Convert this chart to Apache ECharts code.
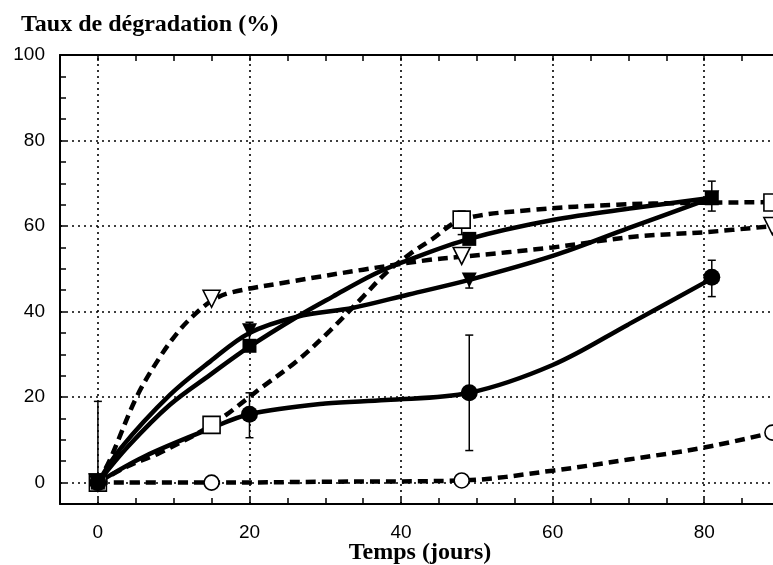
<!DOCTYPE html>
<html>
<head>
<meta charset="utf-8">
<script src="https://cdn.jsdelivr.net/npm/echarts@6/dist/echarts.min.js"></script>
<style>
  html, body { margin: 0; padding: 0; background: #fff; }
  #main { width: 773px; height: 565px; }
</style>
</head>
<body>
<div id="main"></div>
<script>
// graduations
var xGrille = [0, 20, 40, 60, 80];
var yGrille = [0, 20, 40, 60, 80];

// points mesures [jours, %]
var cercle = [[0, 0], [20, 16], [49, 21], [81, 48]];
var carre = [[0, 0], [20, 32], [49, 57], [81, 66.5]];
var triangle = [[0, 0], [20, 35.5], [49, 47.4], [81, 66.6]];
var carreOuvert = [[0, 0], [15, 13.5], [48, 61.5], [89, 65.5]];
var triangleOuvert = [[0, 0], [15, 43], [48, 53], [89, 60]];
var cercleOuvert = [[0, 0], [15, 0], [48, 0.5], [89, 11.7]];

// barres d'erreur [jours, bas, haut]
var erreurs = [[0, 0, 19], [20, 10.5, 21], [49, 7.5, 34.5], [81, 43.5, 52],
  [20, 33, 37.5], [49, 45.5, 48.5], [81, 63.5, 70.5], [48, 58, 63.5]];

// courbes
var courbeCercle = [[0, 0], [6, 6], [14.5, 12.4], [20, 16], [30, 18.5], [38, 19.3], [49, 21], [60, 27.5], [70, 37], [81, 47.7]];
var courbeCarre = [[0, 0], [4, 8.5], [9.5, 18.2], [14.8, 25.2], [20, 31.8], [26.3, 38.8], [31, 43.5], [36.3, 48.6], [40.3, 51.6], [49, 57], [60, 61.4], [70.7, 64.2], [81, 66.6]];
var courbeTriangle = [[0, 0], [3, 8], [9.5, 20.5], [14.8, 28.3], [20, 35], [26.3, 38.8], [33.7, 40.9], [41, 44], [49, 47.4], [60, 53], [70, 59.5], [81, 66.6]];
var courbeCarreOuvert = [[0, 0], [3.8, 3.7], [8.2, 7], [15, 13.5], [21.8, 22.5], [26.3, 28.5], [30.6, 35.5], [35, 43.5], [38, 49], [41.2, 53.5], [44, 56.8], [48, 61.5], [57.5, 63.8], [68.5, 65], [78, 65.4], [89, 65.6]];
var courbeTriangleOuvert = [[0, 0], [1.6, 5.4], [5.1, 20], [8.2, 29.4], [10.8, 35.7], [13, 39.7], [15, 42.5], [17.4, 44.4], [25.4, 47], [35, 49.8], [43.8, 52.1], [48, 52.8], [60, 55], [70.7, 57.5], [80.4, 58.6], [89, 60]];
var courbeCercleOuvert = [[0, 0], [15, 0], [30, 0.2], [48, 0.5], [60, 2.8], [70, 5.4], [80, 8.2], [89, 11.7]];

var chart = echarts.init(document.getElementById('main'));

function courbe(data, pointille) {
  return {
    type: 'line',
    data: data,
    smooth: 0.35,
    showSymbol: false,
    silent: true,
    z: 3,
    lineStyle: { color: '#000', width: 4.5, type: pointille ? [10, 6] : 'solid' }
  };
}

function points(data, symbole, taille, plein, rot) {
  return {
    type: 'scatter',
    data: data,
    symbol: symbole,
    symbolSize: taille,
    symbolRotate: rot || 0,
    z: 5,
    itemStyle: plein ? { color: '#000', opacity: 1 } : { color: '#fff', borderColor: '#000', borderWidth: 1.6, opacity: 1 }
  };
}

var axeCommun = {
  axisLine: { show: true, onZero: false, lineStyle: { color: '#000', width: 2 } },
  axisTick: { show: true, inside: true, length: 6, lineStyle: { color: '#000', width: 1.5 } },
  splitLine: { show: false }
};

var option = {
  animation: false,
  title: {
    text: 'Taux de dégradation (%)',
    left: 16,
    top: 8,
    textStyle: { fontFamily: 'Liberation Serif', fontWeight: 'bold', fontSize: 24, color: '#000' }
  },
  grid: { left: 60, top: 55, right: -7, bottom: 61, containLabel: false, outerBoundsMode: 'none' },
  xAxis: [Object.assign({
    type: 'value', min: -5, max: 90, interval: 5,
    name: 'Temps (jours)', nameLocation: 'middle', nameGap: 37, nameMoveOverlap: false,
    nameTextStyle: { fontFamily: 'Liberation Serif', fontWeight: 'bold', fontSize: 24, color: '#000' },
    axisLabel: {
      margin: 19, color: '#000', fontFamily: 'Liberation Sans', fontSize: 19,
      formatter: function (v) { return (v >= 0 && v % 20 === 0 && v < 90) ? String(v) : ''; }
    }
  }, axeCommun), Object.assign({
    type: 'value', min: -5, max: 90, interval: 5, position: 'top',
    axisLabel: { show: false }
  }, axeCommun)],
  yAxis: Object.assign({
    type: 'value', min: -5, max: 100, interval: 5,
    axisLabel: {
      margin: 15, color: '#000', fontFamily: 'Liberation Sans', fontSize: 19,
      formatter: function (v) { return (v >= 0 && v % 20 === 0) ? String(v) : ''; }
    }
  }, axeCommun),
  series: [
    {
      // grille pointillee
      type: 'line', data: [], silent: true, z: 1,
      markLine: {
        silent: true, symbol: 'none', label: { show: false },
        lineStyle: { color: '#000', width: 1.6, type: [2, 4] },
        data: xGrille.map(function (v) { return { xAxis: v }; })
          .concat(yGrille.map(function (v) { return { yAxis: v }; }))
      }
    },
    courbe(courbeCercleOuvert, true),
    courbe(courbeTriangleOuvert, true),
    courbe(courbeCarreOuvert, true),
    courbe(courbeCercle, false),
    courbe(courbeCarre, false),
    courbe(courbeTriangle, false),
    {
      type: 'custom',
      data: erreurs,
      z: 4,
      encode: { x: 0, y: [1, 2] },
      renderItem: function (params, api) {
        var x = api.value(0);
        var bas = api.coord([x, api.value(1)]);
        var haut = api.coord([x, api.value(2)]);
        var s = { stroke: '#000', lineWidth: 1.5 };
        return {
          type: 'group',
          children: [
            { type: 'line', shape: { x1: bas[0], y1: bas[1], x2: haut[0], y2: haut[1] }, style: s },
            { type: 'line', shape: { x1: bas[0] - 4, y1: bas[1], x2: bas[0] + 4, y2: bas[1] }, style: s },
            { type: 'line', shape: { x1: haut[0] - 4, y1: haut[1], x2: haut[0] + 4, y2: haut[1] }, style: s }
          ]
        };
      }
    },
    points(cercleOuvert, 'circle', 15, false),
    points(carreOuvert, 'rect', 17, false),
    points(triangleOuvert, 'triangle', 17, false, 180),
    points(cercle, 'circle', 17, true),
    points(carre, 'rect', 14, true),
    points(triangle, 'triangle', 15, true, 180)
  ]
};

chart.setOption(option);
</script>
</body>
</html>
